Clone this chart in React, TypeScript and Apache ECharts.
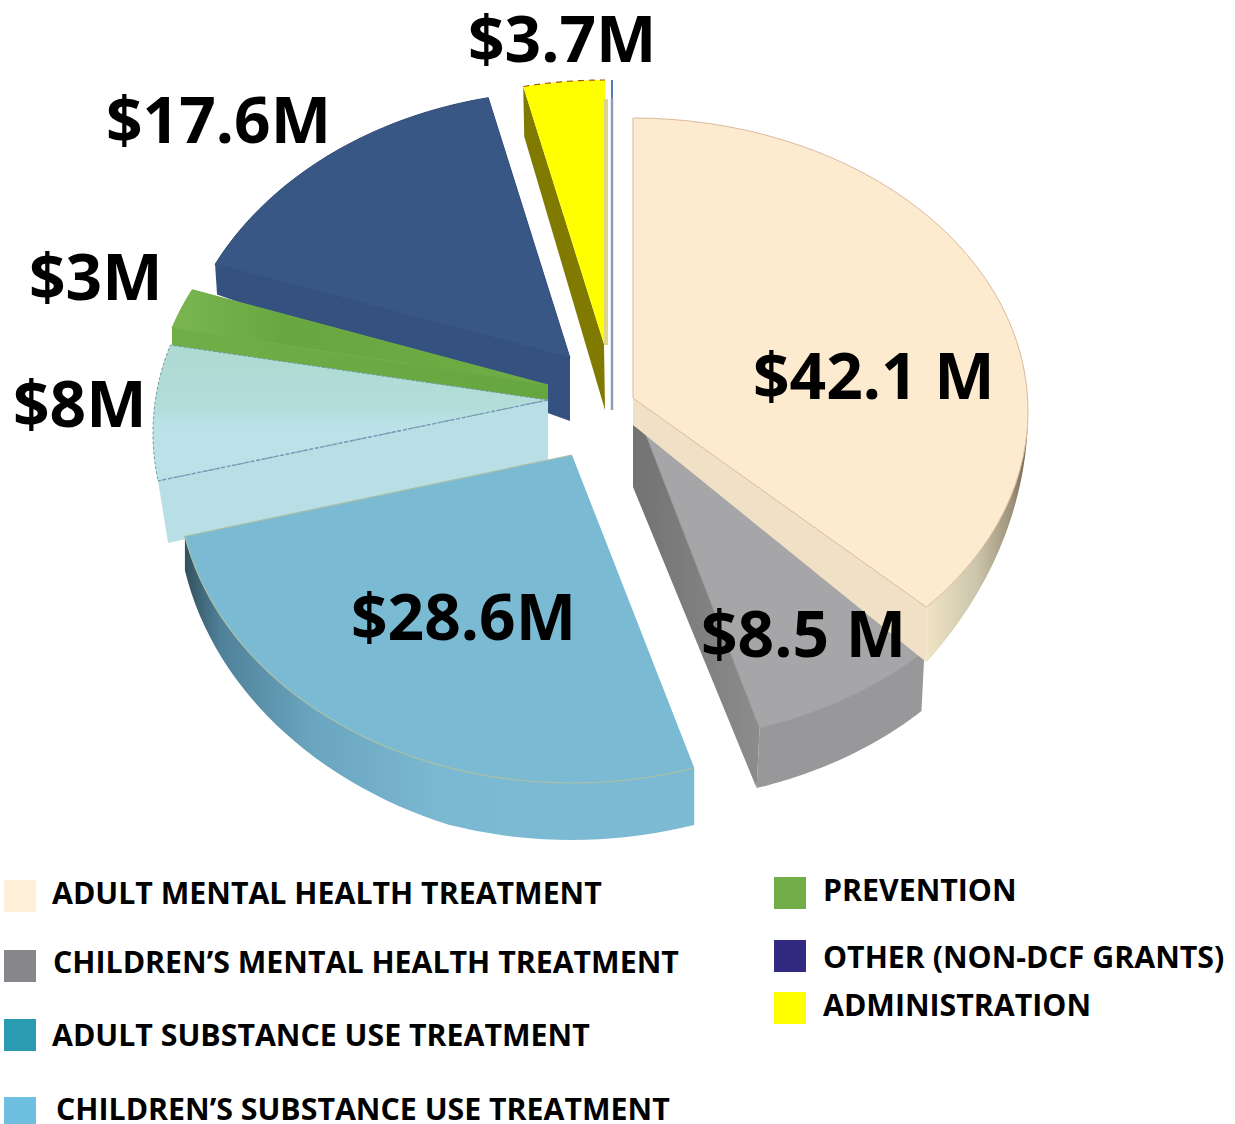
import React, { useEffect, useRef } from "react";
import * as echarts from "echarts";

const categories = [
  "ADULT MENTAL HEALTH TREATMENT",
  "CHILDREN’S MENTAL HEALTH TREATMENT",
  "ADULT SUBSTANCE USE TREATMENT",
  "CHILDREN’S SUBSTANCE USE TREATMENT",
  "PREVENTION",
  "OTHER (NON-DCF GRANTS)",
  "ADMINISTRATION",
];
const values = [42.1, 8.5, 28.6, 8, 3, 17.6, 3.7];
const valueLabels = ["$42.1 M", "$8.5 M", "$28.6M", "$8M", "$3M", "$17.6M", "$3.7M"];
const swatchColors = ["#FEEFD8", "#87868B", "#2A9BB0", "#6FC0E0", "#72AD4A", "#322A80", "#FFFF00"];

const FONT = "'Open Sans', 'Noto Sans', sans-serif";
const lin = (x: number, y: number, x2: number, y2: number, stops: [number, string][]) =>
  new echarts.graphic.LinearGradient(x, y, x2, y2, stops.map(([offset, color]) => ({ offset, color })));

// Per-slice 3D look: apex, ellipse, explode, depth and colours.
const looks: any[] = [
  { ax: 633, ay: 398, cx: 633, cy: 411, rx: 395, ry: 293, n0: 0, n1: -3.9, depA: [0, 27], depO: [0, 55], cut: "end", sideFrom: 90, fade: 42, z2: 5,
    top: "#FDEBD0", stroke: "#DDB99C", cutFill: "#F0E1C6",
    side: () => lin(0, 0, 1, 0, [[0, "#F0E3C5"], [0.5, "#CBC5AB"], [0.85, "#9C9078"], [1, "#6E604C"]]) },
  { ax: 645, ay: 432, cx: 640, cy: 445, rx: 395, ry: 297, n0: -2, n1: -1, depA: [-12, 55], depO: [-3, 60], cut: "end", cutExtra: [633, 425], z2: 4,
    top: "#A6A5A7", stroke: "#9A9A9C", cutFill: lin(0, 0, 1, 0, [[0, "#727272"], [1, "#8C8C8C"]]), side: () => "#98989B" },
  { ax: 572, ay: 455, cx: 572, cy: 475, rx: 395, ry: 308, n0: -1.4, n1: 2.8, depA: [0, 57], depO: [0, 57], shrink: 0.4, z2: 6,
    top: "#7BBAD3", arcStroke: "#A9BFA5", arcClose: true,
    side: () => lin(0, 0, 1, 0, [[0, "#33505E"], [0.07, "#4F8199"], [0.25, "#6AA5BF"], [0.5, "#7BB8D1"], [1, "#7DBAD3"]]) },
  { ax: 548, ay: 400, cx: 548, cy: 433, rx: 395, ry: 300, n0: 5.1, n1: 5.5, depA: [0, 60], depO: [10, 62], cut: "start", z2: 3,
    top: lin(0, 0, 0, 1, [[0, "#AEDAD3"], [0.45, "#B2DDD9"], [0.6, "#BAE2E8"], [1, "#BAE2E8"]]),
    stroke: "#6F98A2", strokeDash: [3, 2], dashEdge: "#7C9BBB", cutFill: "#B9DFE6" },
  { ax: 548, ay: 385, cx: 548, cy: 420, rx: 395, ry: 300, n0: 6.3, n1: 4.5, depA: [0, 20], depO: [0, 20], cut: "start", z2: 2,
    top: lin(0, 0, 1, 0, [[0, "#7AB552"], [0.3, "#68A740"], [1, "#6FAD45"]]), stroke: "#6FAD45",
    cutFill: lin(0, 0, 1, 0, [[0, "#70AE48"], [1, "#66A63F"]]) },
  { ax: 570, ay: 358, cx: 570, cy: 400, rx: 395, ry: 309, n0: 4.8, n1: 0, depA: [0, 63], depO: [2, 30], cut: "start", z2: 1,
    top: "#385785", stroke: "#2E4A76", cutFill: "#34517F" },
  { ax: 604, ay: 344, cx: 605, cy: 380, rx: 395, ry: 300, n0: 0, n1: 0, depA: [1, 66], depO: [1, 50], cut: "start", z2: 1,
    top: "#FFFF00", arcStroke: "#A2521A", arcDash: [6, 5], cutFill: "#807B00" },
];

const total = values.reduce((a, b) => a + b, 0);

function renderSlice(params: any, api: any) {
  const i = params.dataIndex;
  const g = looks[i];
  const before = values.slice(0, i).reduce((a, b) => a + b, 0);
  const t0 = (before / total) * 360 + g.n0;
  const t1 = ((before + api.value(0)) / total) * 360 + g.n1;
  const rim = (t: number) => {
    const r = (t * Math.PI) / 180;
    return [g.cx + g.rx * Math.sin(r), g.cy - g.ry * Math.cos(r)];
  };
  const children: any[] = [];
  const arc: number[][] = [];
  for (let k = 0; k <= 48; k++) arc.push(rim(t0 + ((t1 - t0) * k) / 48));

  if (g.side) {
    const from = g.sideFrom ?? t0;
    const up: number[][] = [];
    const down: number[][] = [];
    for (let k = 0; k <= 48; k++) {
      const t = from + ((t1 - from) * k) / 48;
      const p = rim(t);
      let f = g.fade ? Math.min(1, (t - from) / g.fade) : 1;
      if (g.shrink) f = 1 - g.shrink * Math.max(0, (t - (t1 - 60)) / 60);
      up.push(p);
      down.push([p[0] + g.depO[0] * f, p[1] + g.depO[1] * f]);
    }
    children.push({
      type: "polygon", z2: g.z2,
      shape: { points: up.concat(down.reverse()) },
      style: { fill: g.side() },
    });
  }
  if (g.cut) {
    const e = g.cut === "start" ? rim(t0) : rim(t1);
    const pts = [
      [g.ax, g.ay], e,
      [e[0] + g.depO[0], e[1] + g.depO[1]],
      [g.ax + g.depA[0], g.ay + g.depA[1]],
    ];
    if (g.cutExtra) pts.push(g.cutExtra);
    children.push({
      type: "polygon", z2: g.z2,
      shape: { points: pts },
      style: { fill: g.cutFill },
    });
  }
  children.push({
    type: "polygon", z2: g.z2 + 0.1,
    shape: { points: [[g.ax, g.ay], ...arc] },
    style: { fill: g.top, stroke: g.stroke ?? null, lineWidth: 1, lineDash: g.strokeDash },
  });
  if (g.arcStroke) {
    children.push({
      type: "polyline", z2: g.z2 + 0.2,
      shape: { points: g.arcClose ? [...arc, [g.ax, g.ay]] : arc },
      style: { stroke: g.arcStroke, fill: null, lineWidth: 1.2, lineDash: g.arcDash },
    });
  }
  if (g.dashEdge) {
    const e = rim(t0);
    children.push({
      type: "line", z2: g.z2 + 0.2,
      shape: { x1: g.ax, y1: g.ay, x2: e[0], y2: e[1] },
      style: { stroke: g.dashEdge, lineWidth: 1.4, lineDash: [4, 2] },
    });
  }
  return { type: "group", children };
}

const labelPos = [
  [753, 374], [701, 632], [351, 615], [13, 402], [29, 275], [106, 118], [468, 37],
];
const swatchPos = [
  [4, 880, 32], [4, 950, 32], [4, 1019, 32], [4, 1097, 27],
  [774, 877, 32], [774, 940, 32], [774, 992, 32],
];
const legendPos = [
  [52, 892.5], [53, 961.5], [52, 1034.5], [56, 1108.5], [823, 889.5], [823, 956.5], [823, 1004.5],
];

export default function App() {
  const ref = useRef<HTMLDivElement>(null);
  useEffect(() => {
    document.body.style.margin = "0";
    const chart = echarts.init(ref.current!, undefined, { renderer: "svg" });
    const graphics: any[] = [
      { type: "line", z: 10, shape: { x1: 606, y1: 99, x2: 606, y2: 345 }, style: { stroke: "#DDD58C", lineWidth: 4 } },
      { type: "line", z: 10, shape: { x1: 612, y1: 80, x2: 612, y2: 98 }, style: { stroke: "#2A5AA8", lineWidth: 1.6 } },
      { type: "line", z: 10, shape: { x1: 612, y1: 98, x2: 612, y2: 410 }, style: { stroke: "#8E9BB5", lineWidth: 2.4 } },
    ];
    valueLabels.forEach((t, i) => {
      graphics.push({
        type: "text", z: 100, x: labelPos[i][0], y: labelPos[i][1],
        style: { text: t, fontFamily: FONT, fontWeight: 700, fontSize: 64, fill: "#000", textVerticalAlign: "middle", textAlign: "left" },
      });
    });
    categories.forEach((t, i) => {
      graphics.push({
        type: "rect", z: 100,
        shape: { x: swatchPos[i][0], y: swatchPos[i][1], width: 32, height: swatchPos[i][2] },
        style: { fill: swatchColors[i] },
      });
      graphics.push({
        type: "text", z: 100, x: legendPos[i][0], y: legendPos[i][1],
        style: { text: t, fontFamily: FONT, fontWeight: 700, fontSize: 30.3, fill: "#000", textVerticalAlign: "middle", textAlign: "left" },
      });
    });
    chart.setOption({
      animation: false,
      backgroundColor: "#ffffff",
      series: [
        {
          type: "custom",
          coordinateSystem: "none",
          silent: true,
          data: values.map((v) => [v]),
          renderItem: renderSlice,
        },
      ],
      graphic: { elements: graphics },
    });
    return () => chart.dispose();
  }, []);
  return <div ref={ref} style={{ position: "absolute", left: 0, top: 0, width: 1235, height: 1124 }} />;
}
